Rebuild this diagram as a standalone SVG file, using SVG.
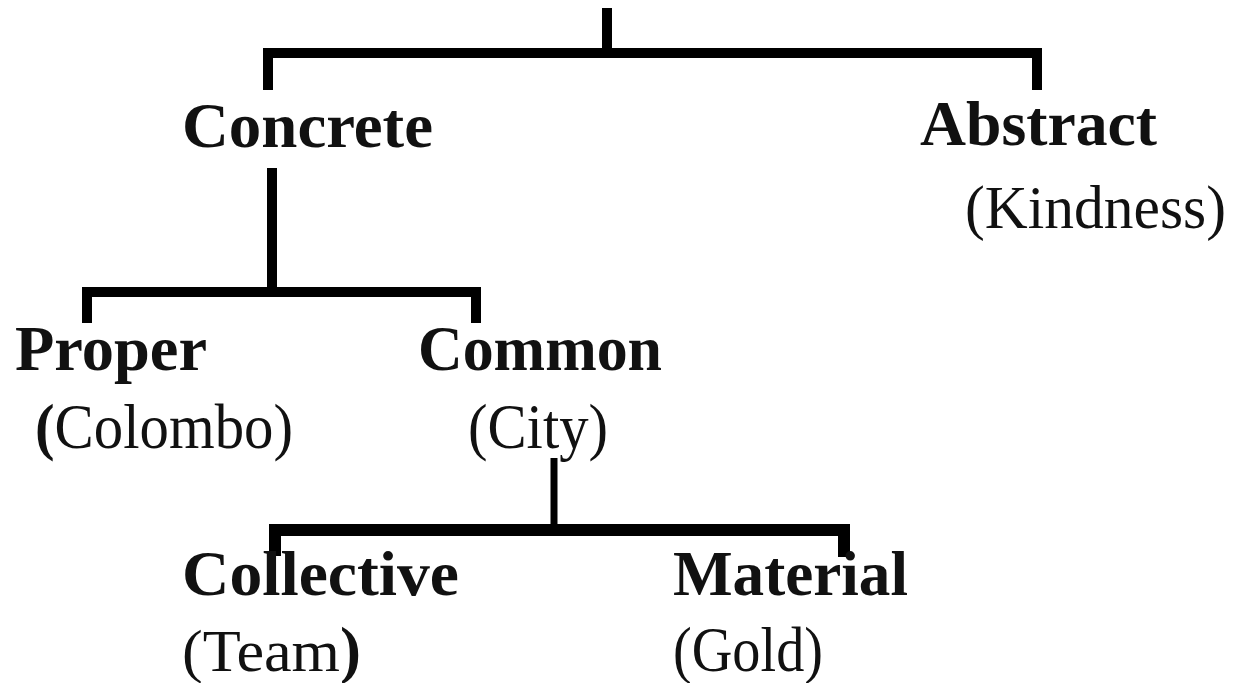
<svg xmlns="http://www.w3.org/2000/svg" width="1237" height="683" viewBox="0 0 1237 683">
<style>
.h{font-family:"Liberation Serif","Times New Roman",serif;font-weight:bold;font-size:64px;fill:#111}
.s{font-family:"Liberation Serif","Times New Roman",serif;font-weight:normal;font-size:63px;fill:#111}
.b{font-weight:bold}
.ln{stroke:#000;stroke-width:10;fill:none;stroke-linecap:butt;stroke-linejoin:miter}
.thin{stroke-width:7}
.thick{stroke-width:12}
</style>
<rect width="1237" height="683" fill="#fff"/>
<g id="connectors">
<path class="ln" d="M607 8V53"/>
<path class="ln" d="M268 90V53H1037V90"/>
<path class="ln" d="M272 168V292"/>
<path class="ln" d="M87 323V292H476V323"/>
<path class="ln thin" d="M554 458V528"/>
<path class="ln thick" d="M275 556V530H844V557"/>
</g>
<g id="concrete"><text class="h" x="182" y="147" textLength="251" lengthAdjust="spacingAndGlyphs">Concrete</text></g>
<g id="abstract">
<text class="h" x="920" y="145" textLength="237" lengthAdjust="spacingAndGlyphs">Abstract</text>
<text class="s" x="965" y="228" style="font-size:61px" textLength="261" lengthAdjust="spacingAndGlyphs">(Kindness)</text>
</g>
<g id="proper">
<text class="h" x="15" y="370" textLength="192" lengthAdjust="spacingAndGlyphs">Proper</text>
<text class="s" x="35" y="448" textLength="258" lengthAdjust="spacingAndGlyphs"><tspan class="b">(</tspan>Colombo)</text>
</g>
<g id="common">
<text class="h" x="418" y="370" textLength="244" lengthAdjust="spacingAndGlyphs">Common</text>
<text class="s" x="468" y="448" textLength="140" lengthAdjust="spacingAndGlyphs">(City)</text>
</g>
<g id="collective">
<text class="h" x="182" y="595" textLength="277" lengthAdjust="spacingAndGlyphs">Collective</text>
<text class="s" x="182" y="671" style="font-size:60px" textLength="158" lengthAdjust="spacingAndGlyphs">(Team</text>
<text class="s b" x="340" y="671">)</text>
</g>
<g id="material">
<text class="h" x="673" y="595" textLength="235" lengthAdjust="spacingAndGlyphs">Material</text>
<text class="s" x="673" y="671" textLength="150" lengthAdjust="spacingAndGlyphs">(Gold)</text>
</g>
</svg>
